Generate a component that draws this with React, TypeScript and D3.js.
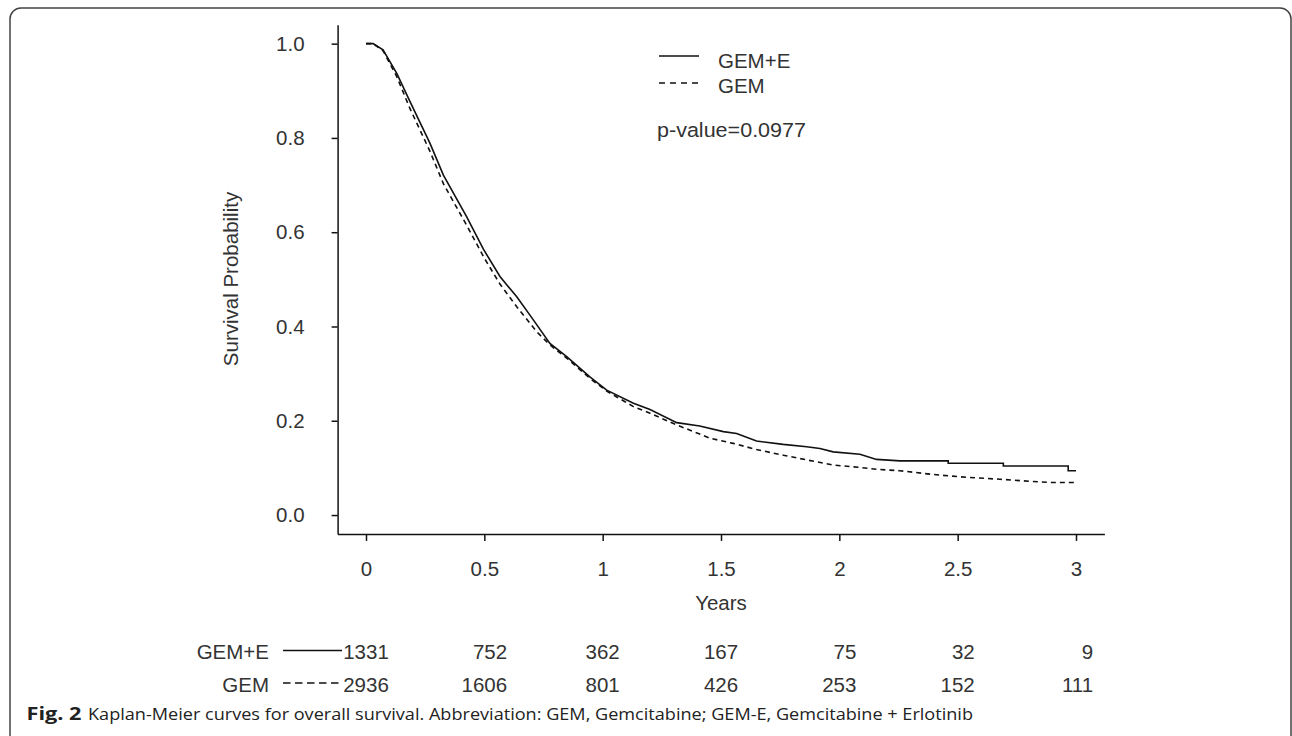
import React, { useEffect, useRef } from 'react';
import * as d3 from 'd3';

// survival estimates: [years, probability]
const gemE: [number, number][] = [
  [0, 1.0], [0.03, 1.0], [0.072, 0.987], [0.13, 0.937], [0.186, 0.877],
  [0.27, 0.789], [0.327, 0.721], [0.425, 0.633], [0.496, 0.564], [0.566, 0.506],
  [0.637, 0.463], [0.707, 0.414], [0.777, 0.364], [0.848, 0.336], [0.946, 0.293],
  [1.017, 0.265], [1.13, 0.237], [1.2, 0.224], [1.313, 0.196], [1.41, 0.189],
  [1.51, 0.177], [1.566, 0.173], [1.65, 0.157], [1.763, 0.15], [1.862, 0.145],
  [1.918, 0.141], [1.974, 0.134], [2.087, 0.129], [2.157, 0.118], [2.256, 0.115],
  [2.46, 0.115], [2.46, 0.11], [2.693, 0.11], [2.693, 0.104], [2.967, 0.104],
  [2.967, 0.094], [3.0, 0.094],
];

const gem: [number, number][] = [
  [0, 1.0], [0.03, 1.0], [0.072, 0.985], [0.13, 0.93], [0.186, 0.862],
  [0.27, 0.772], [0.327, 0.703], [0.425, 0.615], [0.5, 0.545], [0.566, 0.49],
  [0.637, 0.442], [0.721, 0.389], [0.777, 0.361], [0.848, 0.333], [0.946, 0.29],
  [1.017, 0.263], [1.13, 0.23], [1.2, 0.216], [1.313, 0.191], [1.41, 0.172],
  [1.453, 0.163], [1.552, 0.152], [1.65, 0.139], [1.763, 0.127], [1.862, 0.117],
  [1.974, 0.106], [2.087, 0.101], [2.157, 0.097], [2.256, 0.094], [2.397, 0.086],
  [2.538, 0.08], [2.678, 0.076], [2.82, 0.071], [2.9, 0.069], [3.0, 0.069],
];

const xTicks = [0, 0.5, 1, 1.5, 2, 2.5, 3];
const yTicks = [0, 0.2, 0.4, 0.6, 0.8, 1.0];
const riskGemE = [1331, 752, 362, 167, 75, 32, 9];
const riskGem = [2936, 1606, 801, 426, 253, 152, 111];

const W = 1292;
const H = 736;
const FONT = '"Liberation Sans", Arial, sans-serif';
const CAP_FONT = '"Open Sans", "Noto Sans", sans-serif';
const FS = 20.5;
const TXT = '#333';

const App = () => {
  const xRef = useRef<SVGGElement>(null);
  const yRef = useRef<SVGGElement>(null);

  // R style axes: 4% padding around the data range
  const x = d3.scaleLinear().domain([-0.12, 3.12]).range([337.6, 1104.4]);
  const y = d3.scaleLinear().domain([-0.04, 1.04]).range([533.9, 24.8]);

  const line = d3.line<[number, number]>()
    .x(d => x(d[0]))
    .y(d => y(d[1]));

  useEffect(() => {
    const gx = d3.select(xRef.current)
      .call(d3.axisBottom(x).tickValues(xTicks).tickFormat(d3.format('')).tickSize(7).tickSizeOuter(0).tickPadding(21));
    const gy = d3.select(yRef.current)
      .call(d3.axisLeft(y).tickValues(yTicks).tickFormat(d3.format('.1f')).tickSize(6).tickSizeOuter(0).tickPadding(27));
    [gx, gy].forEach(g => {
      g.attr('font-size', FS).attr('font-family', FONT);
      g.select('.domain').attr('stroke', '#111').attr('stroke-width', 1.5);
      g.selectAll('.tick line').attr('stroke', '#111').attr('stroke-width', 1.5);
      g.selectAll('.tick text').attr('fill', TXT);
    });
  }, []);

  const digitW = FS * 0.556;

  return (
    <svg width={W} height={H} style={{ position: 'absolute', left: 0, top: 0, background: '#fff' }}>
      <rect x={10} y={8} width={1281} height={740} rx={11} fill="none" stroke="#444" strokeWidth={1.5} />

      <g ref={xRef} transform={`translate(0,${y(-0.04)})`} />
      <g ref={yRef} transform={`translate(${x(-0.12)},0)`} />

      <path d={line(gem) ?? ''} fill="none" stroke="#111" strokeWidth={1.6} strokeDasharray="5,4" />
      <path d={line(gemE) ?? ''} fill="none" stroke="#111" strokeWidth={1.6} />

      <text x={721} y={602} textAnchor="middle" dominantBaseline="central" fontFamily={FONT} fontSize={FS} fill={TXT}>Years</text>
      <text transform="translate(230,279) rotate(-90)" textAnchor="middle" dominantBaseline="central" fontFamily={FONT} fontSize={FS} fill={TXT}>Survival Probability</text>

      {/* legend */}
      <line x1={659} x2={699} y1={56} y2={56} stroke="#111" strokeWidth={1.5} />
      <line x1={659} x2={699} y1={83} y2={83} stroke="#111" strokeWidth={1.5} strokeDasharray="6,5" />
      <text x={718} y={60} dominantBaseline="central" fontFamily={FONT} fontSize={FS} fill={TXT}>GEM+E</text>
      <text x={718} y={85} dominantBaseline="central" fontFamily={FONT} fontSize={FS} fill={TXT}>GEM</text>
      <text x={657} y={129} dominantBaseline="central" fontFamily={FONT} fontSize={FS} fill={TXT}
        textLength={149} lengthAdjust="spacingAndGlyphs">p-value=0.0977</text>

      {/* numbers at risk */}
      <text x={269} y={651} textAnchor="end" dominantBaseline="central" fontFamily={FONT} fontSize={FS} fill={TXT}>GEM+E</text>
      <text x={269} y={684} textAnchor="end" dominantBaseline="central" fontFamily={FONT} fontSize={FS} fill={TXT}>GEM</text>
      <line x1={283} x2={342} y1={650.5} y2={650.5} stroke="#111" strokeWidth={1.5} />
      <line x1={283} x2={342} y1={683} y2={683} stroke="#111" strokeWidth={1.5} strokeDasharray="7.5,4.5" />
      {xTicks.map((t, i) => {
        const right = x(t) + (String(riskGem[i]).length * digitW) / 2;
        return (
          <g key={t} fontFamily={FONT} fontSize={FS} fill={TXT}>
            <text x={right} y={651} textAnchor="end" dominantBaseline="central">{riskGemE[i]}</text>
            <text x={right} y={684} textAnchor="end" dominantBaseline="central">{riskGem[i]}</text>
          </g>
        );
      })}

      {/* caption */}
      <text x={26.5} y={713} dominantBaseline="central" fontFamily={CAP_FONT} fontSize={17} fontWeight="bold" fill="#222"
        textLength={55} lengthAdjust="spacingAndGlyphs">Fig. 2</text>
      <text x={88} y={713} dominantBaseline="central" fontFamily={CAP_FONT} fontSize={16.5} fill="#222"
        textLength={885} lengthAdjust="spacingAndGlyphs">
        Kaplan-Meier curves for overall survival. Abbreviation: GEM, Gemcitabine; GEM-E, Gemcitabine + Erlotinib
      </text>
    </svg>
  );
};

export default App;
